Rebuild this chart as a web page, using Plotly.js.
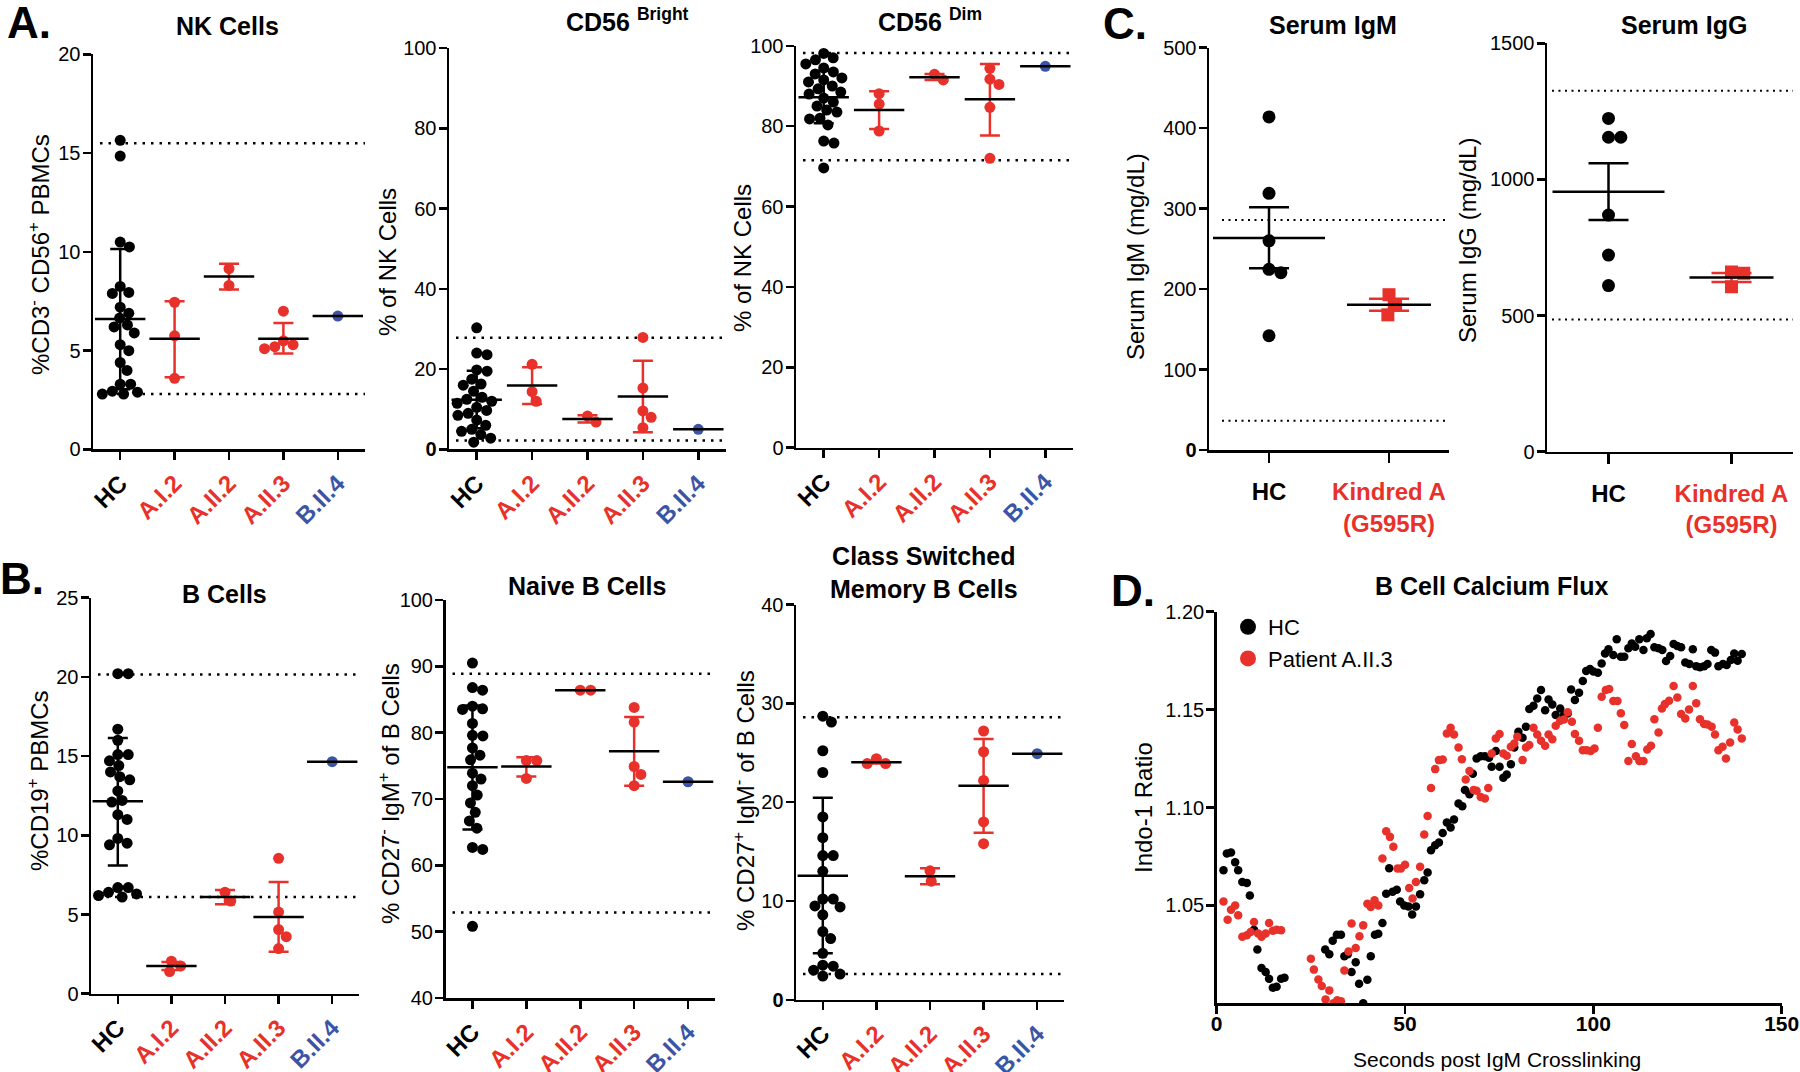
<!DOCTYPE html>
<html>
<head>
<meta charset="utf-8">
<script src="https://cdn.plot.ly/plotly-3.0.1.min.js"></script>
<style>
  html, body { margin: 0; padding: 0; background: #fff; }
  #chart { width: 1800px; height: 1072px; }
</style>
</head>
<body>
<div id="chart"></div>
<script>
// ---- data ----
var categories = ['HC', 'A.I.2', 'A.II.2', 'A.II.3', 'B.II.4'];

// A. NK cells
var nkValues = [
    [15.65, 14.85, 10.5, 10.25, 8.25, 7.95, 7.9, 7.2, 6.9, 6.65, 6.3, 6.2, 5.9, 5.3, 5.0, 4.4, 4.0, 3.3, 3.3, 2.95, 2.9, 2.8, 2.8],
    [7.45, 5.75, 3.6],
    [9.15, 8.3],
    [7.0, 5.5, 5.3, 5.2, 5.1],
    [6.75]
];
var nkMean = [6.6, 5.6, 8.75, 5.6, 6.75];
var nkUpper = [10.15, 7.5, 9.4, 6.4, null];
var nkLower = [3.05, 3.65, 8.1, 4.85, null];
var nkRef = [15.5, 2.8];

var brightValues = [
    [30.3, 24.0, 23.6, 19.8, 19.5, 17.5, 16.3, 16.0, 14.5, 13.0, 12.5, 12.0, 11.5, 10.5, 9.7, 9.0, 8.5, 7.3, 6.0, 5.0, 4.5, 3.7, 2.8, 1.8],
    [21.2, 14.4, 12.0],
    [6.8, 8.3],
    [27.9, 15.3, 9.6, 8.0, 5.4],
    [5.0]
];
var brightMean = [12.4, 15.9, 7.6, 13.2, 5.0];
var brightUpper = [19.6, 20.5, 8.5, 22.1, null];
var brightLower = [5.3, 11.3, 6.7, 4.3, null];
var brightRef = [27.8, 2.2];

var dimValues = [
    [98.1, 97.0, 96.5, 95.5, 94.5, 93.5, 93.0, 92.0, 91.5, 91.0, 90.0, 89.3, 88.5, 88.0, 87.0, 86.0, 85.0, 84.0, 83.5, 82.0, 81.8, 80.3, 76.3, 75.8, 69.6],
    [88.1, 85.5, 78.8],
    [91.5, 92.9],
    [94.4, 91.7, 90.4, 84.7, 72.0],
    [94.9]
];
var dimMean = [87.2, 84.0, 92.2, 86.7, 94.9];
var dimUpper = [93.7, 88.7, 93.0, 95.5, null];
var dimLower = [80.7, 79.3, 91.5, 77.7, null];
var dimRef = [98.2, 71.5];

// B. B cells
var bValues = [
    [20.2, 20.2, 16.7, 16.0, 15.1, 15.1, 14.7, 14.4, 14.0, 13.7, 13.5, 12.8, 12.2, 12.1, 11.3, 11.0, 9.8, 9.5, 9.4, 6.7, 6.7, 6.4, 6.3, 6.2, 6.1],
    [2.05, 1.75, 1.4],
    [5.85, 6.4],
    [8.55, 5.15, 4.05, 3.6, 2.85],
    [14.65]
];
var bMean = [12.15, 1.75, 6.1, 4.85, 14.65];
var bUpper = [16.15, 2.0, 6.55, 7.05, null];
var bLower = [8.1, 1.5, 5.65, 2.65, null];
var bRef = [20.15, 6.1];

var naiveValues = [
    [90.5, 86.8, 86.4, 84.0, 83.6, 83.5, 81.4, 79.6, 79.5, 77.7, 76.6, 75.9, 73.9, 73.0, 72.0, 70.6, 69.4, 68.0, 66.7, 65.6, 62.7, 62.4, 50.8],
    [75.8, 75.8, 73.1],
    [86.4, 86.4],
    [83.8, 81.6, 74.9, 73.7, 72.0],
    [72.6]
];
var naiveMean = [74.8, 74.9, 86.4, 77.2, 72.6];
var naiveUpper = [84.1, 76.3, null, 82.35, null];
var naiveLower = [65.4, 73.4, null, 72.0, null];
var naiveRef = [88.9, 52.9];

var csmValues = [
    [28.7, 28.1, 25.2, 23.0, 18.5, 16.4, 14.6, 14.6, 13.0, 10.2, 10.2, 9.5, 9.4, 8.6, 6.9, 6.2, 4.7, 3.5, 3.4, 3.0, 2.6, 2.4],
    [24.4, 23.9, 23.9],
    [12.0, 13.05],
    [27.2, 25.1, 22.2, 18.0, 15.8],
    [24.9]
];
var csmMean = [12.55, 24.05, 12.5, 21.65, 24.9];
var csmUpper = [20.45, 24.2, 13.3, 26.4, null];
var csmLower = [4.7, 23.9, 11.7, 16.9, null];
var csmRef = [28.6, 2.6];

// C. serum immunoglobulins
var serumGroups = ['HC', 'Kindred A<br>(G595R)'];
var igmValues = [[414, 319, 260, 224.5, 220.4, 142], [193, 180, 168]];
var igmMean = [263.5, 180.5];
var igmUpper = [301.6, 188];
var igmLower = [225.8, 173];
var igmRef = [285.8, 36.5];

var iggValues = [[1224, 1155, 1155, 869, 722, 610], [660, 655, 606]];
var iggMean = [955, 640];
var iggUpper = [1059, 656];
var iggLower = [851, 623];
var iggRef = [1326, 486];

// D. calcium flux
var hcTime = [1.8, 2.7, 3.8, 4.9, 5.7, 6.8, 8.0, 8.8, 9.9, 10.8, 11.9, 13.0, 13.9, 14.9, 15.9, 17.1, 18.0,
    28.8, 29.9, 30.8, 31.9, 33.0, 33.9, 34.8, 35.8, 36.9, 37.8, 38.9, 40.0, 40.9, 42.0, 42.9, 44.0, 45.0, 45.8,
    46.7, 47.8, 48.7, 49.8, 50.9, 51.9, 52.9, 54.0, 55.1, 56.0, 56.9, 58.0, 59.0, 60.0, 61.1, 62.1, 63.0, 64.2,
    65.2, 65.9, 67.1, 68.0, 69.0, 70.1, 71.2, 72.3, 73.0, 74.1, 75.1, 76.1, 77.0, 78.1, 79.0, 80.1, 81.2, 82.1,
    83.0, 84.1, 85.1, 86.1, 87.2, 88.1, 89.1, 90.0, 91.2, 92.2, 93.2, 94.1, 95.1, 96.2, 97.2, 98.1, 99.1, 100.0,
    101.2, 102.2, 103.1, 104.0, 105.3, 106.2, 107.3, 108.2, 109.3, 110.2, 111.1, 112.2, 113.3, 114.2, 115.2,
    116.2, 117.3, 118.3, 119.3, 120.4, 121.3, 122.3, 123.3, 124.4, 125.5, 126.4, 127.3, 128.3, 129.4, 130.3,
    131.3, 132.3, 133.2, 134.4, 135.4, 136.5, 137.4, 138.3, 139.4];
var hcRatio = [1.068, 1.0765, 1.077, 1.072, 1.068, 1.062, 1.0615, 1.055, 1.0375, 1.0275, 1.018, 1.016, 1.0125, 1.008, 1.0085, 1.0125, 1.013,
    1.0275, 1.025, 1.032, 1.035, 1.035, 1.024, 1.025, 1.016, 1.021, 1.010, 1.000, 1.012, 1.024, 1.035, 1.0355, 1.041, 1.056, 1.069,
    1.057, 1.058, 1.052, 1.050, 1.0495, 1.0453, 1.0494, 1.0557, 1.0628, 1.0668, 1.0782, 1.0807, 1.0821, 1.087, 1.0923, 1.0898, 1.0939, 1.102,
    1.1007, 1.1089, 1.1068, 1.1172, 1.125, 1.1262, 1.1262, 1.1254, 1.1208, 1.1288, 1.1208, 1.1152, 1.1169, 1.1221, 1.1307, 1.1387, 1.1356, 1.1412,
    1.1503, 1.152, 1.1557, 1.16, 1.1497, 1.1552, 1.1526, 1.1472, 1.1506, 1.1472, 1.148, 1.1603, 1.1549, 1.1586, 1.1646, 1.1697, 1.1707, 1.1694,
    1.1688, 1.1736, 1.1787, 1.1808, 1.1779, 1.1859, 1.177, 1.177, 1.1813, 1.1838, 1.1821, 1.1859, 1.1804, 1.1864, 1.1886,
    1.1818, 1.1813, 1.1804, 1.1748, 1.1774, 1.1835, 1.1825, 1.1818, 1.174, 1.1733, 1.1808, 1.1722, 1.1716, 1.1722, 1.1733,
    1.1804, 1.1791, 1.1722, 1.1733, 1.1728, 1.1753, 1.1787, 1.175, 1.1784];

var patientTime = [1.8, 2.9, 3.8, 4.9, 5.7, 6.8, 8.0, 9.0, 9.9, 11.0, 11.9, 13.0, 13.9, 14.9, 15.9, 17.1,
    25.0, 25.8, 27.0, 27.9, 28.9, 29.9, 31.0, 32.0, 33.0, 33.9, 35.0, 35.8, 36.9, 37.9, 38.9, 40.0, 40.9, 41.9,
    42.9, 44.0, 45.0, 46.0, 46.9, 48.0, 48.9, 50.0, 51.1, 52.0, 52.9, 54.0, 55.1, 56.0, 56.9, 58.0, 59.0, 60.0,
    61.1, 62.1, 63.0, 64.2, 65.1, 66.1, 67.1, 68.2, 69.0, 70.1, 71.2, 72.1, 73.0, 74.1, 75.1, 76.1, 77.0, 78.1,
    79.0, 79.8, 81.2, 82.1, 83.0, 84.1, 85.1, 86.1, 87.2, 88.1, 89.1, 90.0, 91.2, 92.2, 93.2, 94.3, 95.1, 96.2,
    97.2, 98.2, 99.3, 100.3, 101.2, 102.2, 103.3, 104.2, 105.3, 106.4, 107.3, 108.2, 109.3, 110.2, 111.3, 112.2,
    113.3, 114.3, 115.3, 116.2, 117.3, 118.2, 119.0, 120.1, 121.3, 122.3, 123.3, 124.4, 125.4, 126.4, 127.3,
    128.3, 129.4, 130.3, 131.4, 132.3, 133.2, 134.3, 135.2, 136.3, 137.4, 138.3, 139.4];
var patientRatio = [1.052, 1.0427, 1.0478, 1.050, 1.045, 1.034, 1.0347, 1.0364, 1.0415, 1.0356, 1.034, 1.0356, 1.041, 1.037, 1.0376, 1.0373,
    1.0228, 1.0172, 1.0122, 1.0088, 1.002, 1.0066, 1.000, 1.0015, 1.001, 1.0168, 1.0265, 1.0407, 1.0282, 1.0342, 1.0398, 1.0509, 1.0492, 1.0526,
    1.050, 1.0739, 1.0879, 1.085, 1.080, 1.0688, 1.0688, 1.0708, 1.0589, 1.0535, 1.062, 1.0697, 1.0862, 1.0957, 1.110, 1.1196, 1.1242, 1.1245,
    1.1378, 1.1407, 1.1373, 1.1307, 1.1247, 1.1143, 1.1187, 1.1089, 1.1085, 1.1054, 1.1046, 1.110, 1.1276, 1.1353, 1.1375, 1.1276, 1.1264, 1.131,
    1.1327, 1.1361, 1.1242, 1.1307, 1.1319, 1.1407, 1.1373, 1.1341, 1.1315, 1.1373, 1.1349, 1.1417, 1.1443, 1.145, 1.1486, 1.1438, 1.1375, 1.1341,
    1.1293, 1.1293, 1.1288, 1.1301, 1.1407, 1.1566, 1.160, 1.1605, 1.1544, 1.1544, 1.1481, 1.1421, 1.1237, 1.1324, 1.1262, 1.1238,
    1.1237, 1.1296, 1.1315, 1.1451, 1.1383, 1.1506, 1.1528, 1.1545, 1.162, 1.1562, 1.1477, 1.1455, 1.1501, 1.162, 1.1532,
    1.1451, 1.1426, 1.1424, 1.1412, 1.1373, 1.1293, 1.131, 1.125, 1.1332, 1.1434, 1.1399, 1.1353];

// ---- styling ----
var W = 1800, H = 1072;
var RED = '#E8312A', BLUE = '#3B55A6', BLACK = '#000000';
var FONT = 'Liberation Sans, Arial, Helvetica, sans-serif';
var groupColors = [BLACK, RED, RED, RED, BLUE];

var traces = [];
var shapes = [];
var annotations = [];
var layout = {
    width: W, height: H,
    margin: {l: 0, r: 0, t: 0, b: 0},
    paper_bgcolor: '#fff', plot_bgcolor: 'rgba(0,0,0,0)',
    font: {family: FONT, color: BLACK},
    showlegend: true,
    legend: {
        x: 1228 / W, y: 1 - 606 / H, xanchor: 'left', yanchor: 'top',
        bgcolor: 'rgba(0,0,0,0)', font: {family: FONT, size: 22, color: BLACK},
        tracegroupgap: 0
    }
};

function axisNames(n) {
    var s = n === 1 ? '' : String(n);
    return {xa: 'xaxis' + s, ya: 'yaxis' + s, x: 'x' + s, y: 'y' + s};
}

function baseAxis() {
    return {
        showline: true, linecolor: BLACK, linewidth: 2.5,
        ticks: 'outside', tickcolor: BLACK, tickwidth: 2.5, ticklen: 8,
        showgrid: false, zeroline: false, fixedrange: true,
        tickfont: {family: FONT, size: 20, color: BLACK}
    };
}

// simple beeswarm: spread points sideways so they do not overlap (px space)
function swarmOffsets(values, yScale, xScale, diam) {
    var order = values.map(function(v, i) { return i; }).sort(function(a, b) { return values[b] - values[a]; });
    var placed = [];
    var offs = new Array(values.length);
    order.forEach(function(i) {
        var y = values[i] * yScale;
        var cands = [0];
        placed.forEach(function(p) {
            var dy = Math.abs(p.y - y);
            if (dy < diam) {
                var dx = Math.sqrt(diam * diam - dy * dy);
                cands.push(p.x + dx, p.x - dx);
            }
        });
        var ok = cands.filter(function(c) {
            return placed.every(function(p) { return (p.x - c) * (p.x - c) + (p.y - y) * (p.y - y) >= diam * diam - 0.01; });
        });
        ok.sort(function(a, b) { return Math.abs(a) - Math.abs(b); });
        placed.push({x: ok[0], y: y});
        offs[i] = ok[0] / xScale;
    });
    return offs;
}

function dotPanel(n, b, yRange, yTicks, yTickText, groups, means, upper, lower, refs, opt) {
    var ax = axisNames(n);
    var xRange = [-0.5, groups.length - 0.5];
    var yScale = (b.b - b.t) / (yRange[1] - yRange[0]);
    var xScale = (b.r - b.l) / (xRange[1] - xRange[0]);

    layout[ax.xa] = Object.assign(baseAxis(), {
        domain: [b.l / W, b.r / W], anchor: ax.y, range: xRange,
        tickvals: groups.map(function(g, i) { return i; }),
        ticktext: opt.labels.map(function(t, i) { return '<b><span style="color:' + opt.colors[i] + '">' + t + '</span></b>'; }),
        tickangle: opt.tickAngle, ticklen: opt.xTickLen,
        tickfont: {family: FONT, size: opt.labelSize, color: BLACK}
    });
    if (opt.labelStandoff) layout[ax.xa].ticklabelstandoff = opt.labelStandoff;
    layout[ax.ya] = Object.assign(baseAxis(), {
        domain: [1 - b.b / H, 1 - b.t / H], anchor: ax.x, range: yRange,
        tickvals: yTicks, ticktext: yTickText, ticklabelstandoff: -2
    });

    var px = [], py = [], pc = [], ps = [];
    groups.forEach(function(vals, g) {
        var offs = swarmOffsets(vals, yScale, xScale, opt.size * 0.95);
        vals.forEach(function(v, i) {
            px.push(g + offs[i]); py.push(v); pc.push(opt.colors[g]); ps.push(opt.symbols[g]);
        });
    });
    traces.push({
        type: 'scatter', mode: 'markers', x: px, y: py, xaxis: ax.x, yaxis: ax.y,
        marker: {color: pc, symbol: ps, size: opt.size, line: {width: 0}},
        showlegend: false, hoverinfo: 'y'
    });

    means.forEach(function(m, g) {
        var t = {
            type: 'scatter', mode: 'markers', x: [g], y: [m], xaxis: ax.x, yaxis: ax.y,
            marker: {symbol: 'line-ew', size: opt.meanWidth[g], color: BLACK, line: {width: 2.5, color: BLACK}},
            showlegend: false, hoverinfo: 'y'
        };
        if (upper[g] != null) {
            t.error_y = {
                type: 'data', symmetric: false, array: [upper[g] - m], arrayminus: [m - lower[g]],
                color: opt.colors[g], thickness: 2.5, width: opt.capWidth[g]
            };
        }
        traces.push(t);
    });

    refs.forEach(function(r) {
        shapes.push({
            type: 'line', layer: 'below', xref: ax.x + ' domain', yref: ax.y,
            x0: opt.refGap / (b.r - b.l), x1: 1, y0: r, y1: r,
            line: {color: BLACK, width: opt.refWidth, dash: opt.refDash}
        });
    });
}

function note(text, x, y, size, extra) {
    annotations.push(Object.assign({
        text: text, x: x / W, y: 1 - y / H, xref: 'paper', yref: 'paper', showarrow: false,
        xanchor: 'center', yanchor: 'middle', font: {family: FONT, size: size, color: BLACK}
    }, extra || {}));
}

var dotOpt = {
    labels: categories, colors: groupColors,
    symbols: ['circle', 'circle', 'circle', 'circle', 'circle'],
    size: 11, meanWidth: [36, 36, 36, 36, 36], capWidth: [10, 10, 10, 10, 10],
    tickAngle: -45, labelSize: 24, xTickLen: 8,
    refGap: 7, refWidth: 2.5, refDash: '2.5px,6px'
};
function boldZero(ticks) { return ticks.map(function(t) { return t === 0 ? '<b>0</b>' : String(t); }); }

// ---- panels A and B ----
dotPanel(1, {l: 93, r: 365, t: 54.4, b: 449.4}, [0, 20], [0, 5, 10, 15, 20], null,
    nkValues, nkMean, nkUpper, nkLower, nkRef, dotOpt);
dotPanel(2, {l: 449, r: 726, t: 48.2, b: 449.4}, [0, 100], [0, 20, 40, 60, 80, 100], boldZero([0, 20, 40, 60, 80, 100]),
    brightValues, brightMean, brightUpper, brightLower, brightRef, dotOpt);
dotPanel(3, {l: 796, r: 1073, t: 45.8, b: 447.7}, [0, 100], [0, 20, 40, 60, 80, 100], null,
    dimValues, dimMean, dimUpper, dimLower, dimRef, dotOpt);
dotPanel(4, {l: 91, r: 359, t: 597.7, b: 993.7}, [0, 25], [0, 5, 10, 15, 20, 25], null,
    bValues, bMean, bUpper, bLower, bRef, dotOpt);
dotPanel(5, {l: 445.5, r: 715, t: 600, b: 998}, [40, 100], [40, 50, 60, 70, 80, 90, 100], null,
    naiveValues, naiveMean, naiveUpper, naiveLower, naiveRef, dotOpt);
dotPanel(6, {l: 796, r: 1064, t: 604.5, b: 999.8}, [0, 40], [0, 10, 20, 30, 40], boldZero([0, 10, 20, 30, 40]),
    csmValues, csmMean, csmUpper, csmLower, csmRef, dotOpt);

// ---- panel C ----
var serumOpt = {
    labels: serumGroups, colors: [BLACK, RED], symbols: ['circle', 'square'],
    size: 13, meanWidth: [80, 60], capWidth: [20, 20],
    tickAngle: 0, labelSize: 24, xTickLen: 10, labelStandoff: 9,
    refGap: 13, refWidth: 2, refDash: '2px,4.5px'
};
dotPanel(7, {l: 1209, r: 1449, t: 47.7, b: 450}, [0, 500], [0, 100, 200, 300, 400, 500], boldZero([0, 100, 200, 300, 400, 500]),
    igmValues, igmMean, igmUpper, igmLower, igmRef, serumOpt);
dotPanel(8, {l: 1547, r: 1793, t: 43.3, b: 451.7}, [0, 1500], [0, 500, 1000, 1500], null,
    iggValues, iggMean, iggUpper, iggLower, iggRef, Object.assign({}, serumOpt, {refGap: 5}));

// ---- panel D ----
var fluxBox = {l: 1216.7, r: 1781.7, t: 611.7, b: 1003.3};
layout.xaxis9 = Object.assign(baseAxis(), {
    domain: [fluxBox.l / W, fluxBox.r / W], anchor: 'y9', range: [0, 150],
    tickvals: [0, 50, 100, 150], ticktext: ['<b>0</b>', '<b>50</b>', '<b>100</b>', '<b>150</b>'],
    tickfont: {family: FONT, size: 21, color: BLACK}, ticklabelstandoff: -8
});
layout.yaxis9 = Object.assign(baseAxis(), {
    domain: [1 - fluxBox.b / H, 1 - fluxBox.t / H], anchor: 'x9', range: [1.0, 1.2],
    tickvals: [1.05, 1.10, 1.15, 1.20], ticktext: ['1.05', '1.10', '1.15', '1.20'], ticklabelstandoff: -2
});
traces.push({
    type: 'scatter', mode: 'markers', name: 'HC', x: hcTime, y: hcRatio, xaxis: 'x9', yaxis: 'y9',
    marker: {color: BLACK, size: 8.5}, showlegend: false
});
traces.push({
    type: 'scatter', mode: 'markers', name: 'Patient A.II.3', x: patientTime, y: patientRatio, xaxis: 'x9', yaxis: 'y9',
    marker: {color: RED, size: 8.5}, showlegend: false
});
// legend entries with the larger legend dots
traces.push({type: 'scatter', mode: 'markers', name: 'HC', x: [null], y: [null], xaxis: 'x9', yaxis: 'y9',
    marker: {color: BLACK, size: 16}});
traces.push({type: 'scatter', mode: 'markers', name: 'Patient A.II.3', x: [null], y: [null], xaxis: 'x9', yaxis: 'y9',
    marker: {color: RED, size: 16}});

// ---- titles, panel letters, axis titles ----
note('<b>A.</b>', 29, 22, 44);
note('<b>B.</b>', 22, 578, 44);
note('<b>C.</b>', 1125, 23, 44);
note('<b>D.</b>', 1133, 590, 44);

note('<b>NK Cells</b>', 227, 26, 25);
note('<b>CD56 <sup>Bright</sup></b>', 627, 20, 25);
note('<b>CD56 <sup>Dim</sup></b>', 930, 20, 25);
note('<b>Serum IgM</b>', 1333, 25, 25);
note('<b>Serum IgG</b>', 1684, 25, 25);
note('<b>B Cells</b>', 224, 594, 25);
note('<b>Naive B Cells</b>', 587, 586, 25);
note('<b>Class Switched<br>Memory B Cells</b>', 924, 572, 25);
note('<b>B Cell Calcium Flux</b>', 1491, 586, 25);

var yTitle = {textangle: -90};
note('%CD3<sup>-</sup> CD56<sup>+</sup> PBMCs', 39, 255, 24, yTitle);
note('% of NK Cells', 387, 262, 24, yTitle);
note('% of NK Cells', 742, 258, 24, yTitle);
note('Serum IgM (mg/dL)', 1135, 257, 24, yTitle);
note('Serum IgG (mg/dL)', 1467, 241, 24, yTitle);
note('%CD19<sup>+</sup> PBMCs', 38, 781, 24, yTitle);
note('% CD27<sup>-</sup> IgM<sup>+</sup> of B Cells', 389, 794, 24, yTitle);
note('% CD27<sup>+</sup> IgM<sup>-</sup> of B Cells', 744, 801, 24, yTitle);
note('Indo-1 Ratio', 1143, 808, 24, yTitle);
note('Seconds post IgM Crosslinking', 1497, 1059, 21);

layout.shapes = shapes;
layout.annotations = annotations;

Plotly.newPlot('chart', traces, layout, {staticPlot: true});
</script>
</body>
</html>
